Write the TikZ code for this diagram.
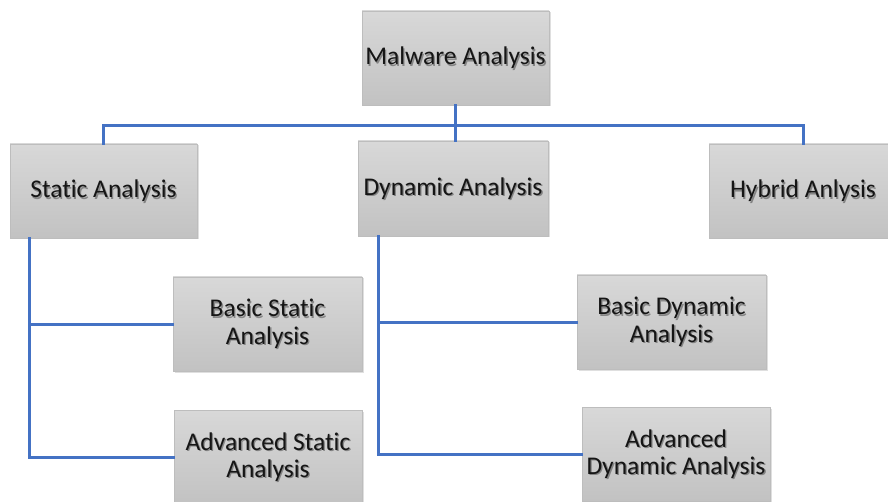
\documentclass[tikz,border=0pt]{standalone}
\usepackage{fontspec}
\setmainfont[Ligatures=NoCommon]{Carlito}
\usetikzlibrary{shadows}
\definecolor{boxtop}{HTML}{D8D8D8}
\definecolor{boxbot}{HTML}{C2C2C2}
\definecolor{boxline}{HTML}{BDBDBD}
\definecolor{conn}{HTML}{4472C4}
\definecolor{txt}{HTML}{151515}
\tikzset{
  box/.style={draw=boxline, line width=0.8pt, top color=boxtop, bottom color=boxbot,
    minimum width=188pt, minimum height=94pt, inner sep=0pt,
    drop shadow={opacity=0.25, shadow xshift=1.5pt, shadow yshift=-1.5pt}},
  boxtext/.style={align=center, inner sep=0pt, text=txt, font=\fontsize{25.5}{27.5}\selectfont},
  shtext/.style={boxtext, text=black, text opacity=0.35},
  link/.style={draw=conn, line width=3pt, line cap=rect}
}
\newcommand\gbox[4][]{%
  \node[box,#1] (#2) at (#3) {};
  \node[shtext] (#2s) at ([shift={(1.3pt,-1.3pt)}]#2.center) {#4};
  \node[boxtext] (#2t) at (#2.center) {#4};
}
\begin{document}
\begin{tikzpicture}[x=1pt,y=-1pt]
\useasboundingbox (0,0) rectangle (888,502);
\coordinate (bus) at (455.5,126);
\gbox[minimum width=187pt]{mal}{455.5,58}{Malware Analysis}
\gbox[minimum width=187pt]{stat}{103.5,191}{Static Analysis}
\gbox[minimum width=190pt, minimum height=95pt]{dyn}{453,188.5}{Dynamic Analysis}
\gbox{hyb}{803,191}{Hybrid Anlysis}
\gbox[minimum width=189pt]{bstat}{267.5,324}{Basic Static\\Analysis}
\gbox{astat}{268,457}{Advanced Static\\Analysis}
\gbox[minimum width=189pt]{bdyn}{671.5,322}{Basic Dynamic\\Analysis}
\gbox{adyn}{676,454}{Advanced\\Dynamic Analysis}
\coordinate (sv) at ([xshift=19.5pt]stat.south west);
\coordinate (dv) at ([xshift=21pt]dyn.south west);
\draw[link] (mal.south) -- (bus);
\draw[link] (stat.north) -- (stat.north |- bus) -- (hyb.north |- bus) -- (hyb.north);
\draw[link] (bus) -- (bus |- dyn.north);
\draw[link] (sv) |- (astat.west);
\draw[link] (sv |- bstat.west) -- (bstat.west);
\draw[link] (dv) |- (adyn.west);
\draw[link] (dv |- bdyn.west) -- (bdyn.west);
\end{tikzpicture}
\end{document}
